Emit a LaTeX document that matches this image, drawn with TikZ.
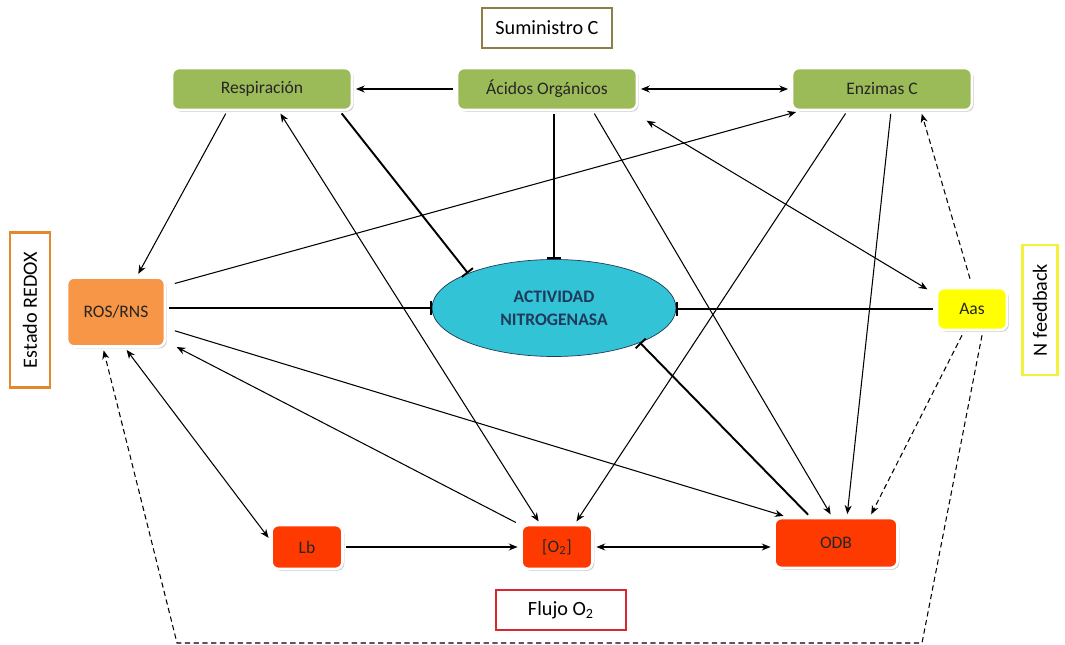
\documentclass[tikz,border=0pt]{standalone}
\usepackage{fontspec}
\setmainfont{Carlito}
\usetikzlibrary{arrows.meta,shapes.geometric,shadows,calc}
\definecolor{leafgreen}{HTML}{9BBB59}
\definecolor{rosorange}{HTML}{F79646}
\definecolor{odbred}{HTML}{FF3A00}
\definecolor{nitcyan}{HTML}{33C3D6}
\definecolor{nitline}{HTML}{1F3A5A}
\definecolor{aasyellow}{HTML}{FFFF00}
\definecolor{sumolive}{HTML}{8B7E4A}
\definecolor{redoxorange}{HTML}{E2892D}
\definecolor{nfbyellow}{HTML}{F2F23A}
\definecolor{flujored}{HTML}{D8282D}
\begin{document}
\begin{tikzpicture}[x=0.02cm, y=-0.02cm, >={Stealth[length=5pt,width=4pt]},
  cell/.style={rectangle, rounded corners=4pt, draw=white, line width=1.5pt, drop shadow={shadow xshift=1pt, shadow yshift=-1pt, fill=black!40}, font=\fontsize{10}{12}\selectfont, text=black!85},
  greencell/.style={cell, fill=leafgreen, minimum width=3.6cm, minimum height=0.84cm},
  redcell/.style={cell, fill=odbred, minimum width=1.42cm, minimum height=0.88cm},
  tag/.style={rectangle, line width=1.3pt, fill=white, font=\fontsize{11.5}{13}\selectfont, minimum width=2.6cm, minimum height=0.8cm},
  act/.style={->, semithick, shorten >=1.5pt, shorten <=1.5pt},
  inhib/.style={-{Bar[width=8pt]}, line width=1.1pt, shorten <=1.5pt},
  fb/.style={->, semithick, dash pattern=on 3pt off 2pt, shorten >=1.5pt}]
\useasboundingbox (0,0) rectangle (1065,645);
\node (sumC) at (547,28) [tag, draw=sumolive] {Suministro C};
\node (resp) at (262,89) [greencell] {Respiración};
\node (acid) at (547,89) [greencell] {Ácidos Orgánicos};
\node (enz) at (882,89) [greencell] {Enzimas C};
\node (ros) at (116,312) [cell, fill=rosorange, minimum width=1.96cm, minimum height=1.38cm] {ROS/RNS};
\node (redox) at (30,310) [tag, draw=redoxorange, rotate=90, minimum width=3.1cm] {Estado REDOX};
\node (nit) at (554,308) [ellipse, draw=nitline, thin, fill=nitcyan, minimum width=4.88cm, minimum height=1.94cm, font=\bfseries\fontsize{10}{13}\selectfont, text=nitline, align=center] {ACTIVIDAD\\NITROGENASA};
\node (aas) at (972,309) [cell, fill=aasyellow, minimum width=1.4cm, minimum height=0.84cm] {Aas};
\node (nfb) at (1040,310) [tag, draw=nfbyellow, rotate=90, minimum height=0.7cm] {N feedback};
\node (lb) at (307,547) [redcell] {Lb};
\node (otwo) at (557,547) [redcell] {[O\textsubscript{2}]};
\node (odb) at (836,543) [cell, fill=odbred, minimum width=2.46cm, minimum height=1cm] {ODB};
\node (flujo) at (561,610) [tag, draw=flujored] {Flujo O\textsubscript{2}};
\coordinate (cornerR) at (922,643);
\coordinate (cornerL) at (177,643);
\draw[act] (acid.west) -- (resp.east);
\draw[act, <->] (acid.east) -- (enz.west);
\draw[act] ($(resp.south)+(-35,0)$) -- ($(ros.north)+(21,0)$);
\draw[act, <->] ($(resp.south)+(17,0)$) -- ($(otwo.north)+(-17,0)$);
\draw[inhib] ($(resp.south)+(78,0)$) -- (nit.158);
\draw[inhib] (acid.south -| nit.north) -- (nit.north);
\draw[act] ($(acid.south)+(46,0)$) -- ($(odb.north)+(-4,0)$);
\draw[act] ($(ros.north east)+(6,8)$) -- ($(enz.south west)+(8,0)$);
\draw[inhib] (ros.east |- nit.west) -- (nit.west);
\draw[act, <->] ($(acid.south east)+(6,8)$) -- ($(aas.north west)+(-6,4)$);
\draw[inhib] (aas.west) -- (aas.west -| nit.east);
\draw[fb] ($(aas.north)+(-2,-8)$) -- ($(enz.south)+(39,0)$);
\draw[fb] ($(aas.south)+(-10,4)$) -- ($(odb.north)+(34,0)$);
\draw[fb] ($(aas.south)+(10,4)$) -- (cornerR) -- (cornerL) -- ($(ros.south)+(-13,0)$);
\draw[act, <->] ($(ros.south)+(9,0)$) -- ($(lb.west)+(0,-7)$);
\draw[act] (lb.east) -- (otwo.west);
\draw[act, <->] (otwo.east) -- (otwo.east -| odb.west);
\draw[inhib] ($(odb.north)+(-26,0)$) -- (nit.-22);
\draw[act] ($(ros.east)+(6,18)$) -- ($(odb.north west)+(13,0)$);
\draw[act] ($(otwo.north west)+(-2,0)$) -- ($(ros.south east)+(8,-2)$);
\draw[act] ($(enz.south)+(-35,0)$) -- ($(otwo.north)+(18,0)$);
\draw[act] ($(enz.south)+(9,0)$) -- ($(odb.north)+(11,0)$);
\end{tikzpicture}
\end{document}
